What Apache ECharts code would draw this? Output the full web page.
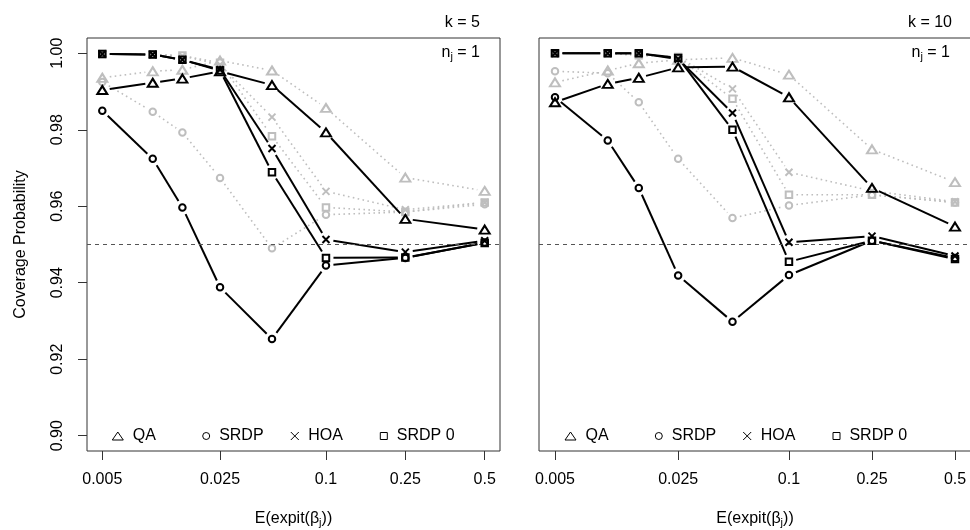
<!DOCTYPE html>
<html>
<head>
<meta charset="utf-8">
<script src="https://cdn.jsdelivr.net/npm/echarts@6/dist/echarts.min.js"></script>
<style>
html,body{margin:0;padding:0;background:#fff;}
#chart{width:970px;height:530px;}
</style>
</head>
<body>
<div id="chart"></div>
<script>
// ---- data ----
const probs = [0.005, 0.01, 0.015, 0.025, 0.05, 0.1, 0.25, 0.5];
const tickProbs = [0.005, 0.025, 0.1, 0.25, 0.5];
const yTicks = [0.90, 0.92, 0.94, 0.96, 0.98, 1.00];
const refLine = 0.95;

// k = 5, n_j = 1 (black)
const k5_QA    = [0.9904, 0.9923, 0.9934, 0.9953, 0.9917, 0.9793, 0.9567, 0.9539];
const k5_SRDP  = [0.9850, 0.9724, 0.9597, 0.9388, 0.9253, 0.9445, 0.9465, 0.9505];
const k5_HOA   = [0.9998, 0.9997, 0.9983, 0.9957, 0.9751, 0.9513, 0.9480, 0.9510];
const k5_SRDP0 = [0.9998, 0.9997, 0.9983, 0.9955, 0.9689, 0.9465, 0.9466, 0.9504];
// k = 5 comparison (grey)
const k5g_QA    = [0.9936, 0.9953, 0.9957, 0.9981, 0.9955, 0.9857, 0.9675, 0.9640];
const k5g_SRDP  = [0.9925, 0.9847, 0.9793, 0.9674, 0.9490, 0.9578, 0.9585, 0.9605];
const k5g_HOA   = [0.9998, 0.9997, 0.9993, 0.9970, 0.9833, 0.9639, 0.9591, 0.9610];
const k5g_SRDP0 = [0.9998, 0.9997, 0.9994, 0.9975, 0.9783, 0.9597, 0.9585, 0.9610];

// k = 10, n_j = 1 (black)
const k10_QA    = [0.9872, 0.9920, 0.9936, 0.9963, 0.9965, 0.9885, 0.9648, 0.9547];
const k10_SRDP  = [0.9885, 0.9772, 0.9648, 0.9419, 0.9298, 0.9420, 0.9510, 0.9465];
const k10_HOA   = [1.0000, 1.0000, 1.0000, 0.9985, 0.9844, 0.9506, 0.9522, 0.9470];
const k10_SRDP0 = [1.0000, 1.0000, 1.0000, 0.9988, 0.9800, 0.9455, 0.9510, 0.9462];
// k = 10 comparison (grey)
const k10g_QA    = [0.9924, 0.9955, 0.9974, 0.9983, 0.9988, 0.9944, 0.9749, 0.9663];
const k10g_SRDP  = [0.9953, 0.9948, 0.9872, 0.9724, 0.9569, 0.9602, 0.9630, 0.9610];
const k10g_HOA   = [1.0000, 1.0000, 0.9995, 0.9990, 0.9907, 0.9689, 0.9640, 0.9612];
const k10g_SRDP0 = [1.0000, 1.0000, 0.9995, 0.9990, 0.9881, 0.9630, 0.9630, 0.9610];

// ---- helpers ----
const FONT = "'Liberation Sans', Arial, Helvetica, sans-serif";
const logit = p => Math.log(p / (1 - p));
const expit = v => 1 / (1 + Math.exp(-v));
const X_PATH = 'path://M0,0L10,10M10,0L0,10';
const BLACK = '#000000';
const GREY = '#bebebe';

const xs = probs.map(logit);
const xLo = logit(probs[0]), xHi = logit(probs[probs.length - 1]);
const xPad = (xHi - xLo) * 0.04;
const yLo = 0.90, yHi = 1.00, yPad = (yHi - yLo) * 0.04;

const methods = [
  {name: 'QA',     symbol: 'triangle', size: [10, 8],    legSize: [11, 8]},
  {name: 'SRDP',   symbol: 'circle',   size: 6.5,        legSize: [7, 7]},
  {name: 'HOA',    symbol: X_PATH,     size: 7,          legSize: [8, 8]},
  {name: 'SRDP 0', symbol: 'rect',     size: 6.5,        legSize: [7, 7]}
];

const panels = [
  {black: [k5_QA, k5_SRDP, k5_HOA, k5_SRDP0],     grey: [k5g_QA, k5g_SRDP, k5g_HOA, k5g_SRDP0]},
  {black: [k10_QA, k10_SRDP, k10_HOA, k10_SRDP0], grey: [k10g_QA, k10g_SRDP, k10g_HOA, k10g_SRDP0]}
];

function pts(vals) { return vals.map((v, i) => [xs[i], v]); }

function gapLine(data, gi, color, width, dash, z) {
  return {
    type: 'custom', xAxisIndex: gi, yAxisIndex: gi, z: z, silent: true,
    encode: {x: 0, y: 1},
    data: data,
    renderItem: function (params, api) {
      const i = params.dataIndex;
      if (i >= data.length - 1) return null;
      const p0 = api.coord(data[i]);
      const p1 = api.coord(data[i + 1]);
      const dx = p1[0] - p0[0], dy = p1[1] - p0[1];
      const L = Math.sqrt(dx * dx + dy * dy);
      const g = 7.5;
      if (L <= 2 * g) return null;
      const ux = dx / L, uy = dy / L;
      return {
        type: 'line',
        shape: {x1: p0[0] + ux * g, y1: p0[1] + uy * g, x2: p1[0] - ux * g, y2: p1[1] - uy * g},
        style: {stroke: color, lineWidth: width, lineDash: dash, fill: null, lineCap: 'butt'}
      };
    }
  };
}

function markers(data, gi, m, color, z, named) {
  const s = {
    type: 'scatter', xAxisIndex: gi, yAxisIndex: gi, z: z, silent: true,
    symbol: m.symbol, symbolSize: m.size,
    itemStyle: {color: 'rgba(0,0,0,0)', borderColor: color, borderWidth: 2, opacity: 1},
    data: data
  };
  if (named) s.name = m.name;
  return s;
}

const series = [];
panels.forEach((p, gi) => {
  // reference line
  series.push({
    type: 'scatter', xAxisIndex: gi, yAxisIndex: gi, data: [], z: 1, silent: true,
    markLine: {
      silent: true, symbol: ['none', 'none'], label: {show: false},
      lineStyle: {color: '#555', type: [4, 4], width: 1},
      data: [{yAxis: refLine}]
    }
  });
  p.grey.forEach((vals, mi) => series.push(gapLine(pts(vals), gi, GREY, 1.6, [1.6, 3.4], 2)));
  p.grey.forEach((vals, mi) => series.push(markers(pts(vals), gi, methods[mi], GREY, 3, false)));
  p.black.forEach((vals, mi) => series.push(gapLine(pts(vals), gi, BLACK, 2, null, 4)));
  p.black.forEach((vals, mi) => series.push(markers(pts(vals), gi, methods[mi], BLACK, 5, true)));
});

const tickVals = tickProbs.map(logit);
function xAxisFor(gi) {
  return {
    type: 'value', gridIndex: gi, min: xLo - xPad, max: xHi + xPad, position: 'bottom',
    splitLine: {show: false}, axisLine: {show: false, onZero: false},
    axisTick: {show: true, customValues: tickVals, length: 9, lineStyle: {color: '#333', width: 1}},
    axisLabel: {
      show: true, customValues: tickVals, margin: 21,
      fontFamily: FONT, fontSize: 16, color: '#000',
      formatter: v => String(parseFloat(expit(v).toPrecision(6)))
    },
    name: 'E(expit(β{s|j}))', nameLocation: 'middle', nameGap: 58,
    nameTextStyle: {
      fontFamily: FONT, fontSize: 16, color: '#000',
      rich: {s: {fontFamily: FONT, fontSize: 11, color: '#000', padding: [8, 0, 0, 0]}}
    }
  };
}
function yAxisFor(gi) {
  const a = {
    type: 'value', gridIndex: gi, min: yLo - yPad, max: yHi + yPad, position: 'left',
    splitLine: {show: false}, axisLine: {show: false, onZero: false}
  };
  if (gi === 0) {
    Object.assign(a, {
      axisTick: {show: true, customValues: yTicks, length: 9, lineStyle: {color: '#333', width: 1}},
      axisLabel: {
        show: true, customValues: yTicks, rotate: 90, margin: 21,
        fontFamily: FONT, fontSize: 16, color: '#000',
        formatter: v => v.toFixed(2)
      },
      name: 'Coverage Probability', nameLocation: 'middle', nameGap: 58, nameRotate: 90,
      nameTextStyle: {fontFamily: FONT, fontSize: 16, color: '#000'}
    });
  } else {
    Object.assign(a, {axisTick: {show: false}, axisLabel: {show: false}});
  }
  return a;
}

// legends: one component per item so each sits at its own place
const legendLeft = [[117.3, 205.7, 294.3, 383.3], [570, 658.3, 746.7, 836]];
const legends = [];
legendLeft.forEach(row => row.forEach((cx, mi) => {
  const m = methods[mi];
  legends.push({
    show: true, selectedMode: false, orient: 'horizontal', padding: 0,
    left: cx - m.legSize[0] / 2, top: 428,
    itemWidth: m.legSize[0], itemHeight: m.legSize[1],
    data: [{name: m.name, icon: m.symbol}],
    itemStyle: {color: 'rgba(0,0,0,0)', borderColor: '#000', borderWidth: 1},
    textStyle: {fontFamily: FONT, fontSize: 16, color: '#000', lineHeight: 16},
    formatter: n => ' ' + n
  });
}));

const option = {
  animation: false,
  backgroundColor: '#ffffff',
  grid: [
    {left: 87, top: 38, width: 413, height: 413, show: true, borderColor: '#333', borderWidth: 1,
     backgroundColor: 'rgba(0,0,0,0)', containLabel: false, outerBoundsMode: 'none'},
    {left: 539, top: 38, width: 432, height: 413, show: true, borderColor: '#333', borderWidth: 1,
     backgroundColor: 'rgba(0,0,0,0)', containLabel: false, outerBoundsMode: 'none'}
  ],
  xAxis: [xAxisFor(0), xAxisFor(1)],
  yAxis: [yAxisFor(0), yAxisFor(1)],
  legend: legends,
  graphic: [
    {type: 'text', x: 480, y: 23, silent: true,
     style: {text: 'k = 5', align: 'right', verticalAlign: 'middle', font: '16px ' + FONT, fill: '#000'}},
    {type: 'text', x: 480, y: 53, silent: true,
     style: {text: 'n{s|j} = 1', align: 'right', verticalAlign: 'middle', font: '16px ' + FONT, fill: '#000',
             rich: {s: {fontSize: 11, fontFamily: FONT, fill: '#000', padding: [8, 0, 0, 0]}}}},
    {type: 'text', x: 952, y: 23, silent: true,
     style: {text: 'k = 10', align: 'right', verticalAlign: 'middle', font: '16px ' + FONT, fill: '#000'}},
    {type: 'text', x: 950, y: 53, silent: true,
     style: {text: 'n{s|j} = 1', align: 'right', verticalAlign: 'middle', font: '16px ' + FONT, fill: '#000',
             rich: {s: {fontSize: 11, fontFamily: FONT, fill: '#000', padding: [8, 0, 0, 0]}}}}
  ],
  series: series
};

const chart = echarts.init(document.getElementById('chart'), null, {renderer: 'canvas'});
chart.setOption(option);
</script>
</body>
</html>
